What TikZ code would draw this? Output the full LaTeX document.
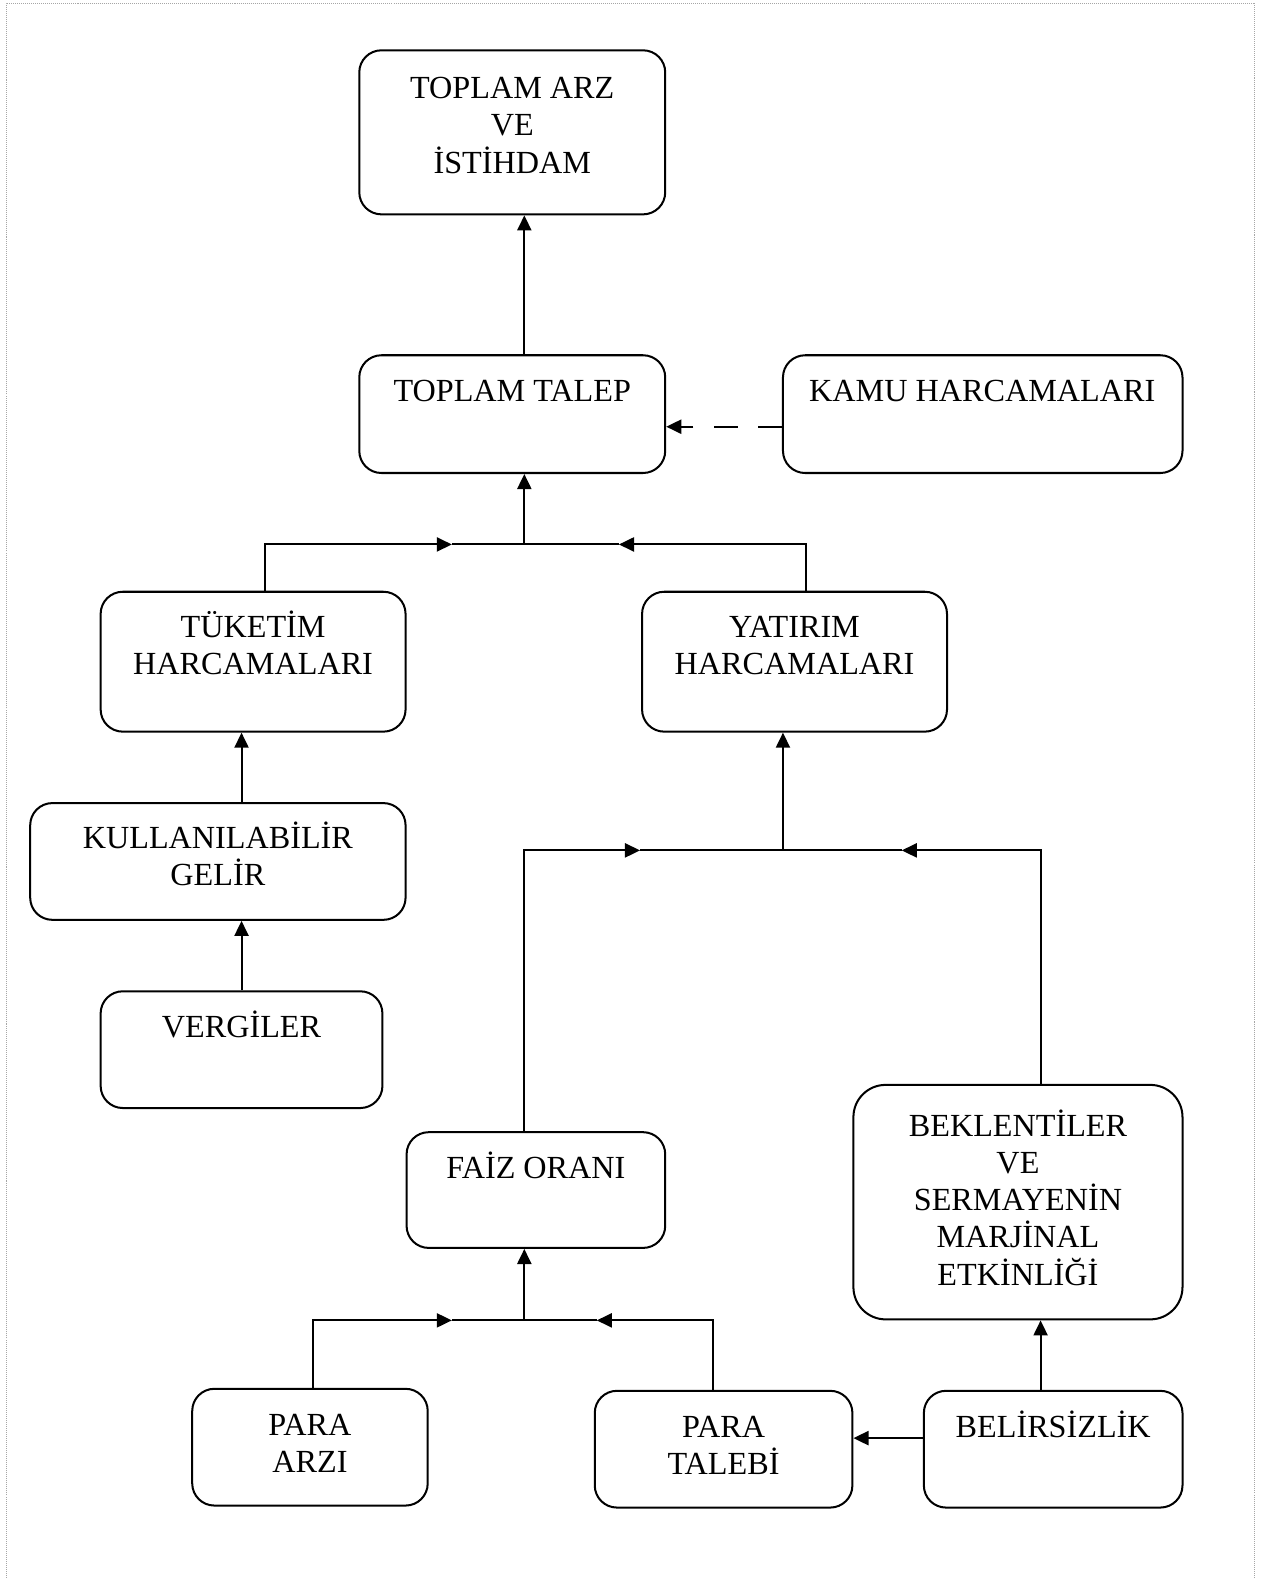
\documentclass[tikz,border=0pt]{standalone}
\usepackage{fontspec}
\setmainfont{Liberation Serif}
\usetikzlibrary{arrows.meta}
\begin{document}
\begin{tikzpicture}[x=1pt,y=-1pt,
  box/.style={draw, line width=2pt, rounded corners=22pt, inner sep=0pt},
  txt/.style={align=center, anchor=base, inner sep=0pt, font=\fontsize{32}{37}\selectfont},
  arr/.style={line width=2pt, -{Triangle[length=15pt,width=14pt]}},
  ln/.style={line width=2pt},
  frame/.style={gray!70, densely dotted, line width=1pt}]
\useasboundingbox (0,0) rectangle (1257,1568);
\draw[frame] (6,1568) -- (6,3) -- (1247,3) -- (1247,1568);

% boxes
\node[box, minimum width=304pt, minimum height=163pt] (arz) at (509,131.5) {};
\node[box, minimum width=304pt, minimum height=117pt] (talep) at (509,411.5) {};
\node[box, minimum width=397pt, minimum height=117pt] (kamu) at (976.5,411.5) {};
\node[box, minimum width=303pt, minimum height=139pt] (tuketim) at (251.5,657.5) {};
\node[box, minimum width=303pt, minimum height=139pt] (yatirim) at (789.5,657.5) {};
\node[box, minimum width=373pt, minimum height=116pt] (gelir) at (216.5,856) {};
\node[box, minimum width=280pt, minimum height=116pt] (vergi) at (240,1043) {};
\node[box, minimum width=257pt, minimum height=115pt] (faiz) at (532.5,1182.5) {};
\node[box, rounded corners=32pt, minimum width=327pt, minimum height=233pt] (bek) at (1011.5,1194.5) {};
\node[box, minimum width=234pt, minimum height=116pt] (arzi) at (308,1438) {};
\node[box, minimum width=256pt, minimum height=116pt] (talebi) at (719,1440) {};
\node[box, minimum width=257pt, minimum height=116pt] (belir) at (1046.5,1440) {};

% texts (anchor = baseline of last line)
\node[txt] (t-arz) at (509,172) {TOPLAM ARZ\\VE\\İSTİHDAM};
\node[txt] (t-talep) at (509,399) {TOPLAM TALEP};
\node[txt] (t-kamu) at (976,399) {KAMU HARCAMALARI};
\node[txt] (t-tuketim) at (251.5,670) {TÜKETİM\\HARCAMALARI};
\node[txt] (t-yatirim) at (789.5,670) {YATIRIM\\HARCAMALARI};
\node[txt] (t-gelir) at (216.5,880) {KULLANILABİLİR\\GELİR};
\node[txt] (t-vergi) at (240,1031) {VERGİLER};
\node[txt] (t-faiz) at (532.5,1171) {FAİZ ORANI};
\node[txt] (t-bek) at (1011.5,1277) {BEKLENTİLER\\VE\\SERMAYENİN\\MARJİNAL\\ETKİNLİĞİ};
\node[txt] (t-arzi) at (308,1463) {PARA\\ARZI};
\node[txt] (t-talebi) at (719,1465) {PARA\\TALEBİ};
\node[txt] (t-belir) at (1046.5,1428) {BELİRSİZLİK};

% junction points
\coordinate (j1) at (521,541);
\coordinate (a1) at (449,541);
\coordinate (b1) at (615,541);
\coordinate (j2) at (778,845);
\coordinate (a2) at (636,845);
\coordinate (b2) at (896,845);
\coordinate (j3) at (521,1312);
\coordinate (a3) at (449,1312);
\coordinate (b3) at (593,1312);

% connectors
\draw[arr] (talep.north -| j1) -- (arz.south -| j1);
\draw[arr, dash pattern=on 24pt off 20pt] ([yshift=-12.5pt]kamu.west) -- ([yshift=-12.5pt]talep.east);

\draw[arr] ([xshift=11.5pt]tuketim.north) |- (a1);
\draw[ln] (a1) -- (j1);
\draw[arr] ([xshift=11.5pt]yatirim.north) |- (b1);
\draw[ln] (b1) -- (j1);
\draw[arr] (j1) -- (j1 |- talep.south);

\draw[arr] (gelir.north -| vergi.north) -- (tuketim.south -| vergi.north);
\draw[arr] (vergi.north) -- (gelir.south -| vergi.north);

\draw[arr] (faiz.north -| j1) |- (a2);
\draw[ln] (a2) -- (j2);
\draw[arr] ([xshift=22.5pt]bek.north) |- (b2);
\draw[ln] (b2) -- (j2);
\draw[arr] (j2) -- (j2 |- yatirim.south);

\draw[arr] ([xshift=3pt]arzi.north) |- (a3);
\draw[ln] (a3) -- (j3);
\draw[arr] ([xshift=-11pt]talebi.north) |- (b3);
\draw[ln] (b3) -- (j3);
\draw[arr] (j3) -- (j3 |- faiz.south);

\draw[arr] ([xshift=-12.5pt]belir.north) -- ([xshift=22.5pt]bek.south);
\draw[arr] ([yshift=11pt]belir.west) -- ([yshift=11pt]belir.west -| talebi.east);
\end{tikzpicture}
\end{document}
